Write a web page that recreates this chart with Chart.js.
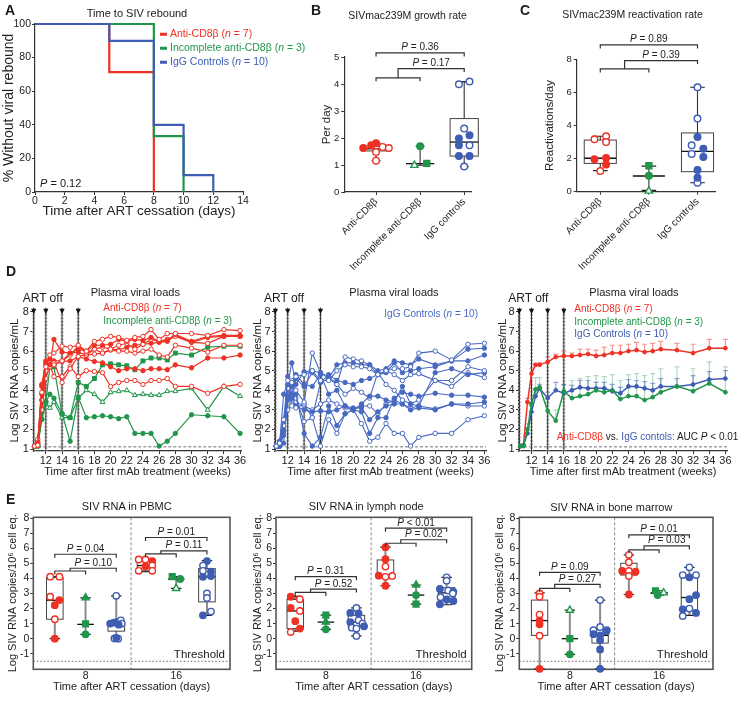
<!DOCTYPE html>
<html>
<head>
<meta charset="utf-8">
<title>SIV rebound after CD8 depletion</title>
<script src="https://cdn.jsdelivr.net/npm/chart.js@4.4.1/dist/chart.umd.min.js"></script>
<style>
  body { margin: 0; width: 739px; height: 704px; position: relative; overflow: hidden; background: #fff;
         font-family: "Liberation Sans", Arial, Helvetica, sans-serif; color: #1b1b1b; }
  .panel { position: absolute; }
  .lbl { position: absolute; white-space: nowrap; line-height: 1; }
</style>
</head>
<body>
<script>
// ---- A: time to rebound (Kaplan-Meier) ----
const kmDaysAnti = [0, 5, 8];
const kmPctAnti = [100, 71.4, 0];
const kmDaysInc = [0, 8, 10];
const kmPctInc = [100, 33.3, 0];
const kmDaysIgg = [0, 5, 8, 10, 12];
const kmPctIgg = [100, 90, 40, 10, 0];
const kmDayTicks = [0, 2, 4, 6, 8, 10, 12, 14];
const kmPctTicks = [0, 20, 40, 60, 80, 100];

// ---- B / C: growth and reactivation rates ----
const groupNames = ['Anti-CD8β', 'Incomplete anti-CD8β', 'IgG controls'];
// box = [min, q1, median, q3, max]
const growthBox = [[1.16, 1.52, 1.6, 1.69, 1.81], [0.99, 1.05, 1.05, 1.05, 1.69], [0.94, 1.33, 1.85, 2.72, 4.09]];
const growthVals = [[1.63, 1.73, 1.81, 1.67, 1.63, 1.48, 1.16], [1.06, 1.69, 0.99], [3.99, 4.09, 2.35, 1.73, 0.94, 1.98, 2.1, 1.73, 1.33, 1.33]];
const growthOpen = [[0, 0, 0, 1, 1, 1, 1], [0, 0, 1], [1, 1, 1, 1, 1, 0, 0, 0, 0, 0]];
const growthJit = [[-0.29, -0.11, 0, 0.15, 0.29, 0, 0], [0.15, 0, -0.13], [-0.12, 0.12, 0, 0.12, 0, -0.12, 0.12, -0.12, -0.12, 0.12]];
const growthBrk = [[5.15, 4.57, 4.23]];
const growthP = [['= 0.36', '= 0.17']];

const reactBox = [[1.27, 1.71, 2.02, 3.12, 3.35], [0.08, 0.95, 0.95, 0.95, 1.55], [0.54, 1.21, 2.44, 3.55, 6.31]];
const reactVals = [[3.17, 3.35, 3.0, 1.25, 1.96, 2.04, 1.65], [1.57, 0.97, 0.04], [6.31, 4.42, 2.8, 2.28, 0.54, 3.31, 2.6, 2.1, 1.31, 0.85]];
const reactOpen = [[1, 1, 1, 1, 0, 0, 0], [0, 0, 1], [1, 1, 1, 1, 1, 0, 0, 0, 0, 0]];
const reactJit = [[-0.12, 0.12, 0.12, 0, -0.12, 0.12, 0.12], [0, 0, 0], [0, 0, -0.12, -0.12, 0, 0, 0.12, 0.12, 0, 0]];
const reactBrk = [[8.87, 7.92, 7.42]];
const reactP = [['= 0.89', '= 0.39']];

// green animals are always listed square, circle, triangle
const incShapes = ['rect', 'circle', 'triangle'];

// ---- D: plasma viral loads ----
const weeks = [10.6, 11, 11.5, 12, 12.5, 13, 14, 15, 16, 17, 18, 19, 20, 21, 22, 23, 24, 25, 26, 27, 28, 30, 32, 34, 36];
const weekTicks = [12, 14, 16, 18, 20, 22, 24, 26, 28, 30, 32, 34, 36];
const logTicks = [1, 2, 3, 4, 5, 6, 7, 8];
const artOffWeeks = [10.5, 12, 14, 16];
const detectLimit = 1.12;

const antiLines = [
  [1.15, 1.2, 3.9, 5.2, 5.8, 5.9, 6.25, 6.2, 6.3, 6.0, 6.5, 6.6, 6.75, 6.7, 6.55, 6.7, 6.75, 7.1, 6.6, 6.9, 6.9, 6.9, 6.8, 7.1, 7.05],
  [1.15, 1.3, 4.3, 5.4, 5.3, 6.6, 5.95, 5.9, 6.1, 6.0, 6.3, 6.3, 6.35, 6.6, 6.5, 6.6, 6.55, 6.7, 6.5, 6.55, 6.85, 6.5, 6.75, 6.8, 6.8],
  [1.15, 1.5, 3.5, 5.0, 5.2, 5.3, 5.5, 5.8, 6.27, 5.9, 6.1, 6.2, 6.1, 6.3, 6.4, 6.1, 6.35, 6.6, 6.5, 6.6, 6.75, 6.45, 6.4, 6.75, 6.75],
  [1.15, 1.2, 3.0, 4.6, 5.4, 5.4, 4.4, 5.1, 5.73, 5.8, 5.85, 5.9, 6.05, 6.0, 6.0, 5.9, 6.0, 6.1, 5.8, 5.7, 6.3, 6.15, 5.95, 6.3, 6.3],
  [1.15, 1.3, 3.8, 5.5, 5.5, 5.3, 5.47, 5.5, 5.7, 5.6, 5.47, 5.4, 5.2, 5.0, 5.1, 5.1, 5.0, 5.1, 5.1, 5.05, 5.3, 5.15, 5.65, 5.65, 5.8],
  [1.15, 1.2, 3.5, 4.9, 5.3, 4.7, 4.7, 5.2, 4.7, 5.0, 4.96, 4.9, 4.19, 4.4, 4.5, 4.5, 4.3, 4.5, 4.5, 4.6, 4.2, 4.2, 3.85, 4.2, 4.3],
  [1.15, 1.4, 4.2, 5.3, 5.6, 5.5, 5.5, 5.9, 5.95, 5.8, 6.1, 5.9, 6.1, 6.05, 6.2, 6.3, 6.35, 6.4, 6.45, 6.5, 6.8, 6.45, 6.7, 6.75, 6.75]
];
const antiOpen = [1, 0, 1, 1, 0, 1, 0];

const incLines = [
  [1.15, 1.15, 2.9, 3.4, 5.2, 5.2, 2.8, 2.6, 4.4, 4.2, 4.6, 5.3, 5.35, 5.3, 5.25, 5.05, 5.5, 5.65, 5.65, 5.55, 5.9, 5.8, 6.2, 6.25, 6.25],
  [1.15, 1.15, 2.5, 3.4, 3.8, 3.6, 2.8, 1.4, 3.65, 2.6, 2.65, 2.7, 2.65, 2.55, 2.65, 1.8, 1.8, 1.8, 1.15, 1.4, 1.8, 2.75, 2.7, 2.65, 1.8],
  [1.15, 1.15, 2.6, 3.3, 3.1, 3.4, 2.6, 2.6, 3.6, 4.0, 3.8, 3.4, 3.9, 3.95, 4.0, 3.75, 3.8, 3.75, 3.75, 3.95, 3.95, 4.1, 3.0, 4.2, 3.7]
];
const incOpenD = [0, 0, 1];

const iggLines = [
  [1.15, 1.3, 2.5, 4.5, 4.4, 4.7, 4.8, 5.0, 4.5, 4.5, 5.0, 5.3, 5.2, 5.2, 5.1, 4.8, 5.0, 5.1, 5.1, 5.2, 5.9, 6.0, 5.55, 6.35, 6.4],
  [1.15, 1.2, 3.8, 4.3, 5.4, 4.3, 4.95, 5.0, 4.9, 4.6, 5.3, 5.4, 5.4, 5.3, 5.3, 5.0, 5.1, 5.5, 5.4, 5.3, 5.6, 5.3, 5.5, 6.1, 6.15],
  [1.15, 1.4, 2.5, 3.6, 4.2, 4.6, 4.2, 4.9, 4.4, 4.8, 4.5, 4.4, 4.3, 4.5, 4.6, 4.8, 4.9, 5.4, 4.9, 5.0, 5.1, 5.2, 5.5, 5.5, 5.8],
  [1.15, 1.2, 2.2, 4.1, 4.5, 4.0, 3.4, 5.9, 4.9, 4.7, 4.3, 5.7, 5.6, 5.5, 5.3, 4.8, 5.0, 4.8, 4.5, 4.8, 4.85, 4.5, 4.5, 5.2, 5.0],
  [1.15, 1.15, 1.9, 4.7, 3.8, 4.8, 4.3, 4.2, 4.8, 3.8, 4.0, 3.2, 3.0, 3.3, 3.7, 3.7, 3.5, 3.4, 4.2, 3.3, 3.2, 4.9, 5.1, 4.8, 4.9],
  [1.15, 1.2, 1.9, 4.2, 3.2, 3.1, 3.3, 2.6, 4.4, 4.6, 4.3, 3.8, 4.1, 3.9, 3.6, 4.9, 4.3, 4.0, 3.5, 3.3, 3.5, 4.5, 4.2, 4.9, 4.65],
  [1.15, 1.15, 1.3, 3.5, 3.6, 3.2, 3.0, 2.9, 2.95, 2.9, 3.0, 3.2, 3.1, 3.1, 2.5, 2.9, 3.2, 3.3, 3.3, 3.0, 3.1, 3.0, 3.3, 3.3, 3.4],
  [1.15, 1.15, 1.7, 3.7, 3.6, 3.8, 1.8, 1.15, 1.6, 3.2, 2.2, 2.8, 3.0, 2.9, 1.8, 2.6, 2.6, 3.6, 3.9, 3.8, 3.7, 3.85, 3.75, 3.75, 3.65],
  [1.15, 1.2, 2.5, 3.6, 4.3, 3.6, 2.4, 2.6, 1.15, 2.5, 1.8, 2.8, 3.0, 2.3, 1.4, 1.6, 2.3, 1.8, 1.8, 1.15, 1.6, 1.8, 1.8, 2.5, 2.7],
  [1.15, 1.15, 2.0, 3.0, 3.3, 3.4, 3.2, 3.0, 3.3, 3.5, 3.3, 3.1, 3.0, 3.2, 3.2, 2.8, 3.3, 3.5, 3.3, 3.1, 3.2, 3.05, 3.3, 3.2, 3.2]
];
const iggOpen = [1, 0, 0, 1, 0, 1, 0, 0, 1, 1];

const antiMean = [1.15, 1.2, 3.4, 4.85, 5.3, 5.3, 5.45, 5.7, 5.75, 5.75, 5.8, 5.85, 5.75, 5.8, 5.9, 5.9, 6.0, 6.05, 5.95, 6.0, 6.1, 6.05, 5.9, 6.15, 6.15];
const antiSem = [0, 0, 0.2, 0.25, 0.05, 0.1, 0.25, 0.15, 0.25, 0.15, 0.3, 0.25, 0.3, 0.4, 0.4, 0.4, 0.35, 0.4, 0.4, 0.4, 0.4, 0.35, 0.45, 0.45, 0.45];
const incMean = [1.15, 1.15, 2.0, 3.3, 4.05, 4.15, 2.95, 2.45, 3.95, 3.6, 3.7, 3.8, 4.0, 3.9, 4.0, 3.55, 3.7, 3.7, 3.5, 3.65, 3.9, 4.2, 3.95, 4.35, 3.9];
const incSem = [0, 0, 0.3, 0.4, 0.6, 0.5, 0.4, 0.55, 0.3, 0.9, 0.9, 0.9, 0.75, 0.8, 0.8, 0.95, 1.1, 1.15, 1.25, 1.2, 1.2, 1.0, 1.15, 1.1, 1.3];
const iggMean = [1.15, 1.2, 1.8, 2.9, 3.7, 4.1, 3.6, 4.0, 3.85, 4.0, 4.15, 4.1, 4.1, 4.1, 3.95, 3.85, 4.2, 4.2, 4.1, 4.0, 4.2, 4.2, 4.3, 4.55, 4.6];
const iggSem = [0, 0.05, 0.3, 0.3, 0.3, 0.2, 0.3, 0.4, 0.45, 0.25, 0.35, 0.4, 0.3, 0.3, 0.35, 0.3, 0.35, 0.3, 0.35, 0.35, 0.4, 0.4, 0.45, 0.4, 0.4];

// ---- E: tissue SIV RNA, groups = anti/inc/igg at day 8 then day 16 ----
const dayLabels = ['8', '16'];
const eLogTicks = [-1, 0, 1, 2, 3, 4, 5, 6, 7, 8];
const eThreshold = -1.5;

const pbmcBox = [[0, 1.29, 2.55, 4.05, 4.11], [0.29, 0.95, 0.95, 0.95, 2.71], [0, 0.5, 1.0, 1.1, 2.84],
                 [4.45, 4.5, 4.85, 5.2, 5.27], [3.33, 3.95, 3.95, 3.95, 4.11], [1.55, 2.44, 4.12, 4.65, 5.18]];
const pbmcVals = [[4.11, 4.11, 2.78, 2.56, 2.22, 1.29, 0], [0.98, 0.29, 2.71], [2.84, 1.0, 1.07, 1.1, 1.22, 1.0, 0.93, 0.02, 0, 0.05],
                  [5.25, 5.25, 5.15, 4.8, 4.85, 4.5, 4.5], [4.11, 3.96, 3.33], [5.15, 4.85, 4.5, 4.45, 4.1, 4.15, 3.0, 2.7, 1.8, 1.55]];
const pbmcOpen = [[1, 1, 1, 0, 0, 1, 0], [0, 0, 0], [1, 0, 0, 0, 1, 1, 0, 1, 1, 0],
                  [1, 1, 0, 0, 1, 1, 1], [0, 0, 1], [0, 1, 1, 0, 0, 0, 1, 1, 1, 0]];
const pbmcJit = [[-0.15, 0.15, -0.15, 0.15, 0, 0, 0], [0, 0, 0], [0, -0.2, -0.08, 0.02, 0.15, 0.18, 0.08, -0.06, 0.06, 0],
                 [-0.22, 0, 0.22, 0, 0.22, -0.22, 0.22], [-0.13, 0.13, 0], [0, -0.13, -0.13, 0.13, -0.13, 0.13, 0, 0, 0.13, -0.13]];
const pbmcBrk = [[5.6, 4.67, 4.49], [6.71, 5.82, 5.62]];
const pbmcP = [['= 0.04', '= 0.10'], ['= 0.01', '= 0.11']];

const lnBox = [[0.5, 0.67, 1.84, 2.6, 2.8], [0.62, 1.1, 1.1, 1.1, 1.56], [0.18, 0.78, 1.1, 1.55, 2.04],
               [3.51, 4.15, 4.2, 5.22, 6.07], [2.29, 2.89, 2.89, 2.89, 3.56], [2.25, 2.56, 3.04, 3.38, 4.07]];
const lnVals = [[2.78, 2.62, 2.04, 1.84, 1.16, 0.67, 0.44], [1.56, 0.62, 1.1], [2.04, 1.71, 1.67, 1.22, 1.1, 1.0, 0.82, 0.73, 0.67, 0.18],
                [6.07, 5.27, 4.78, 4.18, 4.1, 4.16, 3.51], [2.29, 2.89, 3.56], [4.07, 3.85, 3.3, 3.2, 3.1, 3.0, 2.75, 2.6, 2.5, 2.28]];
const lnOpen = [[0, 1, 0, 1, 0, 0, 1], [0, 0, 0], [1, 0, 0, 1, 0, 1, 0, 1, 1, 1],
                [0, 0, 1, 0, 1, 1, 0], [0, 0, 0], [1, 1, 0, 1, 0, 1, 1, 0, 0, 0]];
const lnJit = [[-0.15, 0.15, -0.15, 0.15, 0, 0.15, -0.15], [0, 0, 0], [0, -0.2, 0.07, 0.07, -0.2, 0.2, 0.25, -0.15, 0, 0],
               [0, 0, 0, -0.22, 0, 0.22, 0], [0, 0, 0], [0, 0, -0.22, 0.05, 0.22, 0.2, -0.2, 0, 0.22, -0.22]];
const lnBrk = [[4.11, 3.29, 3.07], [7.33, 6.56, 6.33]];
const lnP = [['= 0.31', '= 0.52'], ['< 0.01', '= 0.02']];

const bmBox = [[-2.0, 0.22, 1.2, 2.56, 3.04], [-1.04, 0, 0, 0, 1.89], [-2.0, -0.29, 0.22, 0.6, 2.56],
               [2.93, 4.22, 4.49, 5.0, 5.56], [2.89, 3.0, 3.02, 3.05, 3.18], [1.55, 1.89, 2.73, 4.11, 4.73]];
const bmVals = [[3.0, 2.78, 1.6, 1.2, 0.95, 0.2, -2.0], [0, -1.04, 1.89], [2.56, 0.78, 0.56, 0.56, 0.3, 0.22, -0.1, -0.71, -2.0, 0.5],
                [5.56, 5.07, 4.49, 4.49, 4.44, 4.16, 2.93], [3.18, 2.89, 3.04], [4.73, 4.22, 4.07, 4.22, 2.89, 2.62, 2.0, 1.95, 1.71, 1.51]];
const bmOpen = [[1, 1, 1, 0, 0, 1, 0], [0, 0, 1], [1, 1, 1, 1, 0, 0, 0, 0, 0, 0],
                [1, 1, 0, 1, 0, 1, 0], [0, 0, 1], [1, 1, 0, 1, 0, 0, 1, 0, 0, 1]];
const bmJit = [[0, 0, 0, 0, 0, 0, 0], [0, 0, 0], [0, 0, -0.22, 0.22, -0.22, 0, 0, 0, 0, 0.2],
               [0, 0, -0.22, 0, 0.22, 0, 0], [-0.12, -0.05, 0.15], [0, -0.22, 0, 0.22, 0.22, 0, 0, -0.22, 0.22, -0.22]];
const bmBrk = [[4.4, 3.6, 3.33], [6.89, 6.16, 5.89]];
const bmP = [['= 0.09', '= 0.27'], ['= 0.01', '= 0.03']];

// ---------------------------------------------------------------
const FONT = '"Liberation Sans", Arial, Helvetica, sans-serif';
const RED = '#ee3124', GREEN = '#20964a', BLUE = '#3e5db3', BLUE_D = '#4869c2';
const groupColors = [RED, GREEN, BLUE];
Chart.defaults.font.family = FONT;
Chart.defaults.color = '#222';

function makePanel(x, y, w, h) {
  const d = document.createElement('div');
  d.className = 'panel';
  d.style.cssText = `left:${x}px;top:${y}px;width:${w}px;height:${h}px`;
  const c = document.createElement('canvas');
  d.appendChild(c);
  document.body.appendChild(d);
  return c;
}

function label(x, y, html, size, o = {}) {
  const s = document.createElement('div');
  s.className = 'lbl';
  s.innerHTML = html;
  s.style.left = x + 'px';
  s.style.top = y + 'px';
  s.style.fontSize = size + 'px';
  if (o.color) s.style.color = o.color;
  if (o.bold) s.style.fontWeight = 'bold';
  s.style.transform = o.center ? 'translate(-50%,-50%)' : 'translateY(-50%)';
  document.body.appendChild(s);
}

function axis(o) {
  return {
    type: 'linear', min: o.min, max: o.max,
    afterBuildTicks: s => { s.ticks = o.ticks.map(v => ({ value: v })); },
    afterFit: s => {
      if (o.width != null) s.width = o.width;
      if (o.height != null) s.height = o.height;
    },
    ticks: {
      font: { size: o.font }, padding: o.pad ?? 2, color: '#222', autoSkip: false,
      maxRotation: o.rot || 0, minRotation: o.rot || 0,
      callback: o.fmt || (v => v)
    },
    grid: { drawOnChartArea: false, drawTicks: (o.tickLen || 0) > 0, tickLength: o.tickLen || 0, color: '#333', lineWidth: 1 },
    border: { display: o.border !== false, color: '#333', width: 1.2 },
    title: o.title ? { display: true, text: o.title, font: { size: o.titleSize }, padding: o.titlePad, color: '#222' }
                   : { display: false }
  };
}

function baseOptions(padding, scales) {
  return {
    responsive: true, maintainAspectRatio: false, animation: false, events: [],
    layout: { padding },
    plugins: { legend: { display: false }, tooltip: { enabled: false } },
    scales
  };
}

function pText(ctx, cx, by, rest, size) {
  ctx.font = `italic ${size}px ${FONT}`;
  const w1 = ctx.measureText('P').width;
  ctx.font = `${size}px ${FONT}`;
  const s = ' ' + rest;
  const w2 = ctx.measureText(s).width;
  const x0 = cx - (w1 + w2) / 2;
  ctx.fillStyle = '#222';
  ctx.textAlign = 'left';
  ctx.textBaseline = 'alphabetic';
  ctx.font = `italic ${size}px ${FONT}`;
  ctx.fillText('P', x0, by);
  ctx.font = `${size}px ${FONT}`;
  ctx.fillText(s, x0 + w1, by);
}

function drawBox(ctx, xs, ys, p, st, c) {
  const [lo, q1, md, q3, hi] = st;
  const X = v => xs.getPixelForValue(v), Y = v => ys.getPixelForValue(v);
  const cx = X(p), l = X(p - c.bw), r = X(p + c.bw), cl = X(p - c.cw), cr = X(p + c.cw);
  ctx.strokeStyle = c.whiskColor;
  ctx.lineWidth = c.whiskWidth;
  ctx.beginPath();
  ctx.moveTo(cx, Y(lo)); ctx.lineTo(cx, Y(q1));
  ctx.moveTo(cx, Y(q3)); ctx.lineTo(cx, Y(hi));
  ctx.stroke();
  ctx.strokeStyle = '#222';
  ctx.lineWidth = 1.2;
  ctx.beginPath();
  ctx.moveTo(cl, Y(lo)); ctx.lineTo(cr, Y(lo));
  ctx.moveTo(cl, Y(hi)); ctx.lineTo(cr, Y(hi));
  ctx.stroke();
  ctx.strokeStyle = '#444';
  ctx.lineWidth = 1;
  if (q3 > q1) ctx.strokeRect(l, Y(q3), r - l, Y(q1) - Y(q3));
  ctx.strokeStyle = '#111';
  ctx.lineWidth = 1.3;
  ctx.beginPath();
  ctx.moveTo(l, Y(md)); ctx.lineTo(r, Y(md));
  ctx.stroke();
}

function drawBrackets(ctx, xs, ys, pos, brk, pTxt, size) {
  const t = 3.5;
  brk.forEach((b, k) => {
    const [yTop, yMain, ySub] = b;
    const g = k * 3;
    const xa = xs.getPixelForValue(pos[g]), xb = xs.getPixelForValue(pos[g + 1]), xc = xs.getPixelForValue(pos[g + 2]);
    const xm = (xa + xb) / 2;
    const ty = ys.getPixelForValue(yTop), my = ys.getPixelForValue(yMain), sy = ys.getPixelForValue(ySub);
    ctx.strokeStyle = '#333';
    ctx.lineWidth = 1.2;
    ctx.beginPath();
    ctx.moveTo(xa, ty + t); ctx.lineTo(xa, ty); ctx.lineTo(xc, ty); ctx.lineTo(xc, ty + t);
    ctx.moveTo(xa, sy + t); ctx.lineTo(xa, sy); ctx.lineTo(xb, sy); ctx.lineTo(xb, sy + t);
    ctx.moveTo(xm, sy); ctx.lineTo(xm, my); ctx.lineTo(xc, my); ctx.lineTo(xc, my + t);
    ctx.stroke();
    pText(ctx, (xa + xc) / 2, ty - 2.5, pTxt[k][0], size);
    pText(ctx, (xm + xc) / 2, my - 2.5, pTxt[k][1], size);
  });
}

function boxChart(canvas, c) {
  const datasets = c.vals.map((vs, g) => {
    const col = groupColors[g % 3];
    const inc = g % 3 === 1;
    return {
      data: vs.map((v, i) => ({ x: c.pos[g] + c.jit[g][i], y: v })),
      pointStyle: vs.map((v, i) => inc ? incShapes[i] : 'circle'),
      pointRadius: vs.map((v, i) => inc && incShapes[i] !== 'circle' ? c.r + 0.9 : c.r),
      pointBackgroundColor: vs.map((v, i) => c.open[g][i] ? '#fff' : col),
      pointBorderColor: col,
      pointBorderWidth: 1.4,
      clip: false
    };
  });
  const plugin = {
    id: 'boxes',
    beforeDatasetsDraw(chart) {
      const { ctx, chartArea: a, scales: { x, y } } = chart;
      ctx.save();
      if (c.frame) {
        ctx.strokeStyle = '#8a8a8a';
        ctx.lineWidth = 1;
        ctx.setLineDash([3, 2]);
        const dx = x.getPixelForValue(c.divider);
        ctx.beginPath(); ctx.moveTo(dx, a.top); ctx.lineTo(dx, a.bottom); ctx.stroke();
        ctx.setLineDash([1.5, 2]);
        ctx.strokeStyle = '#666';
        const ty = y.getPixelForValue(eThreshold);
        ctx.beginPath(); ctx.moveTo(a.left, ty); ctx.lineTo(a.right, ty); ctx.stroke();
        ctx.setLineDash([]);
        ctx.strokeStyle = '#555';
        ctx.lineWidth = 1.6;
        ctx.strokeRect(a.left, a.top, a.width, a.height);
        ctx.fillStyle = '#222';
        ctx.font = `11.5px ${FONT}`;
        ctx.textAlign = 'right';
        ctx.textBaseline = 'middle';
        ctx.fillText('Threshold', a.right - 5, y.getPixelForValue(-1.06));
      }
      c.box.forEach((st, g) => drawBox(ctx, x, y, c.pos[g], st, c));
      ctx.restore();
    },
    afterDatasetsDraw(chart) {
      const { ctx, scales: { x, y } } = chart;
      ctx.save();
      drawBrackets(ctx, x, y, c.pos, c.brk, c.p, c.pSize);
      ctx.restore();
    }
  };
  return new Chart(canvas, { type: 'scatter', data: { datasets }, options: baseOptions(c.padding, c.scales), plugins: [plugin] });
}

// ================= A =================
{
  const canvas = makePanel(0, 0, 300, 225);
  const step = (xs, ys, col) => ({
    data: xs.map((d, i) => ({ x: d, y: ys[i] })), showLine: true, stepped: true,
    borderColor: col, borderWidth: 2.2, pointRadius: 0, clip: false
  });
  new Chart(canvas, {
    type: 'scatter',
    data: { datasets: [step(kmDaysIgg, kmPctIgg, BLUE), step(kmDaysInc, kmPctInc, GREEN), step(kmDaysAnti, kmPctAnti, RED)] },
    options: baseOptions({ top: 24, right: 57, left: 0, bottom: 0 }, {
      x: axis({ min: 0, max: 14, ticks: kmDayTicks, font: 10.5, tickLen: 3, pad: 0, height: 33,
                title: 'Time after ART cessation (days)', titleSize: 13.5, titlePad: { bottom: 6 } }),
      y: axis({ min: 0, max: 100, ticks: kmPctTicks, font: 10.5, tickLen: 3, pad: 1, width: 35,
                title: '% Without viral rebound', titleSize: 14, titlePad: { top: 1 } })
    })
  });
  label(5, 10, 'A', 14, { bold: true });
  label(137, 13, 'Time to SIV rebound', 11, { center: true });
  const mk = c => `<span style="display:inline-block;width:7px;height:3px;background:${c};vertical-align:middle;margin-right:3px"></span>`;
  label(160, 33, mk(RED) + 'Anti-CD8β (<i>n</i> = 7)', 10.5, { color: RED });
  label(160, 47, mk(GREEN) + 'Incomplete anti-CD8β (<i>n</i> = 3)', 10.5, { color: GREEN });
  label(160, 61, mk(BLUE) + 'IgG Controls (<i>n</i> = 10)', 10.5, { color: BLUE });
  label(40, 183, '<i>P</i> = 0.12', 11);
}

// ================= B & C =================
const bcPos = [1, 2, 3];
boxChart(makePanel(295, 0, 222, 280), {
  box: growthBox, vals: growthVals, open: growthOpen, jit: growthJit, pos: bcPos,
  brk: growthBrk, p: growthP, pSize: 10, r: 3.3, bw: 0.32, cw: 0.1, whiskColor: '#333', whiskWidth: 1.1,
  padding: { top: 57, right: 45.3, left: 0, bottom: 0 },
  scales: {
    x: axis({ min: 0.28, max: 3.17, ticks: bcPos, fmt: v => groupNames[v - 1], rot: 45, font: 10, tickLen: 3, pad: 1, height: 88 }),
    y: axis({ min: 0, max: 5, ticks: [0, 1, 2, 3, 4, 5], font: 9.5, tickLen: 3, pad: 2, width: 49.3,
              title: 'Per day', titleSize: 11.5, titlePad: { top: 25 } })
  }
});
label(311, 10, 'B', 14, { bold: true });
label(407.5, 15, 'SIVmac239M growth rate', 10.5, { center: true });

boxChart(makePanel(515, 0, 224, 280), {
  box: reactBox, vals: reactVals, open: reactOpen, jit: reactJit, pos: bcPos,
  brk: reactBrk, p: reactP, pSize: 10, r: 3.3, bw: 0.33, cw: 0.15, whiskColor: '#333', whiskWidth: 1.1,
  padding: { top: 59.3, right: 24, left: 0, bottom: 0 },
  scales: {
    x: axis({ min: 0.515, max: 3.36, ticks: bcPos, fmt: v => groupNames[v - 1], rot: 45, font: 10, tickLen: 3, pad: 1, height: 88.3 }),
    y: axis({ min: 0, max: 8, ticks: [0, 2, 4, 6, 8], font: 9.5, tickLen: 3, pad: 2, width: 61.7,
              title: 'Reactivations/day', titleSize: 11.5, titlePad: { top: 28 } })
  }
});
label(520, 10, 'C', 14, { bold: true });
label(632.5, 14, 'SIVmac239M reactivation rate', 10.5, { center: true });

// ================= D =================
function lineSet(vals, col, open, shape, r, w) {
  return {
    data: weeks.map((wk, i) => ({ x: wk, y: vals[i] })), showLine: true, borderColor: col, borderWidth: w,
    pointStyle: shape, pointRadius: shape === 'circle' ? r : r + 0.6,
    pointBackgroundColor: open ? '#fff' : col, pointBorderColor: col, pointBorderWidth: 1, clip: false
  };
}

function artPlugin(errs) {
  return {
    id: 'artoff',
    beforeDatasetsDraw(chart) {
      const { ctx, chartArea: a, scales: { x, y } } = chart;
      ctx.save();
      const ty = y.getPixelForValue(detectLimit);
      ctx.strokeStyle = '#a0a0a0';
      ctx.lineWidth = 1.6;
      ctx.setLineDash([3, 2]);
      ctx.beginPath(); ctx.moveTo(a.left, ty); ctx.lineTo(a.right, ty); ctx.stroke();
      artOffWeeks.forEach(w => {
        const px = x.getPixelForValue(w);
        const top = y.getPixelForValue(8.22);
        ctx.setLineDash([2, 1.5]);
        ctx.strokeStyle = '#b5b5b5';
        ctx.lineWidth = 3;
        ctx.beginPath(); ctx.moveTo(px, top + 6); ctx.lineTo(px, a.bottom); ctx.stroke();
        ctx.setLineDash([]);
        ctx.strokeStyle = '#333';
        ctx.lineWidth = 1;
        ctx.beginPath(); ctx.moveTo(px, top); ctx.lineTo(px, a.bottom); ctx.stroke();
        ctx.fillStyle = '#111';
        ctx.beginPath(); ctx.moveTo(px - 2.6, top + 1); ctx.lineTo(px + 2.6, top + 1); ctx.lineTo(px, top + 6.5); ctx.closePath(); ctx.fill();
      });
      (errs || []).forEach(e => {
        ctx.strokeStyle = e.color;
        ctx.lineWidth = 1.2;
        ctx.beginPath();
        weeks.forEach((wk, i) => {
          if (!e.sem[i]) return;
          const px = x.getPixelForValue(wk), y0 = y.getPixelForValue(e.mean[i]), y1 = y.getPixelForValue(e.mean[i] + e.sem[i]);
          ctx.moveTo(px, y0); ctx.lineTo(px, y1);
          ctx.moveTo(px - 2.5, y1); ctx.lineTo(px + 2.5, y1);
        });
        ctx.stroke();
      });
      ctx.restore();
    }
  };
}

function dScales(yWidth, yPad) {
  return {
    x: axis({ min: 10.45, max: 36.2, ticks: weekTicks, font: 11, tickLen: 3, pad: 0, height: 34,
              title: 'Time after first mAb treatment (weeks)', titleSize: 11, titlePad: { bottom: 6 } }),
    y: axis({ min: 0.9, max: 8.1, ticks: logTicks, font: 11, tickLen: 3, pad: 1.5, width: yWidth,
              title: 'Log SIV RNA copies/mL', titleSize: 11.5, titlePad: { top: yPad } })
  };
}

{
  const ds = antiLines.map((v, i) => lineSet(v, RED, antiOpen[i], 'circle', 2.2, 1.2))
    .concat(incLines.map((v, i) => lineSet(v, GREEN, incOpenD[i], ['rect', 'circle', 'triangle'][i], 2.2, 1.2)));
  new Chart(makePanel(0, 235, 250, 250), {
    type: 'scatter', data: { datasets: ds },
    options: baseOptions({ top: 75, right: 8.3, left: 0, bottom: 0 }, dScales(33.3, 8.1)),
    plugins: [artPlugin()]
  });
  label(6, 271, 'D', 14, { bold: true });
  label(135.3, 292.3, 'Plasma viral loads', 11, { center: true });
  label(22.7, 297.7, 'ART off', 12);
  label(103.3, 308.3, 'Anti-CD8β (<i>n</i> = 7)', 10, { color: RED });
  label(103.3, 321, 'Incomplete anti-CD8β (<i>n</i> = 3)', 10, { color: GREEN });
}
{
  const ds = iggLines.map((v, i) => lineSet(v, BLUE_D, iggOpen[i], 'circle', 2.2, 1.1));
  new Chart(makePanel(245, 235, 250, 250), {
    type: 'scatter', data: { datasets: ds },
    options: baseOptions({ top: 75, right: 9, left: 0, bottom: 0 }, dScales(30, 6.4)),
    plugins: [artPlugin()]
  });
  label(394, 292.3, 'Plasma viral loads', 11, { center: true });
  label(264, 297.7, 'ART off', 12);
  label(384.3, 314, 'IgG Controls (<i>n</i> = 10)', 10, { color: BLUE_D });
}
{
  const ds = [
    lineSet(incMean, GREEN, 0, 'circle', 1.9, 1.5),
    lineSet(iggMean, BLUE, 0, 'circle', 1.9, 1.5),
    lineSet(antiMean, RED, 0, 'circle', 1.9, 1.5)
  ];
  const errs = [
    { mean: incMean, sem: incSem, color: 'rgba(32,150,74,0.35)' },
    { mean: iggMean, sem: iggSem, color: 'rgba(62,93,179,0.55)' },
    { mean: antiMean, sem: antiSem, color: 'rgba(238,49,36,0.5)' }
  ];
  new Chart(makePanel(490, 235, 249, 250), {
    type: 'scatter', data: { datasets: ds },
    options: baseOptions({ top: 75, right: 12, left: 0, bottom: 0 }, dScales(29, 6.4)),
    plugins: [artPlugin(errs)]
  });
  label(634, 292.3, 'Plasma viral loads', 11, { center: true });
  label(508.3, 298.3, 'ART off', 12);
  label(574.3, 309, 'Anti-CD8β (<i>n</i> = 7)', 10, { color: RED });
  label(574.3, 322.3, 'Incomplete anti-CD8β (<i>n</i> = 3)', 10, { color: GREEN });
  label(574.3, 334, 'IgG Controls (<i>n</i> = 10)', 10, { color: BLUE });
  label(556.7, 436.7, `<span style="color:${RED}">Anti-CD8β</span> vs. <span style="color:${BLUE}">IgG contols:</span> AUC <i>P</i> &lt; 0.01`, 10);
}

// ================= E =================
const ePos = [1, 2, 3, 3.95, 4.95, 5.95];
function eScales(xMin, xMax, yWidth, yPad) {
  return {
    x: axis({ min: xMin, max: xMax, ticks: [2, 4.95], fmt: (v, i) => dayLabels[i], font: 10.5, tickLen: 0, pad: 1,
              height: 34.7, border: false, title: 'Time after ART cessation (days)', titleSize: 11, titlePad: { bottom: 10.5 } }),
    y: axis({ min: -2.03, max: 8.05, ticks: eLogTicks, font: 10.5, tickLen: 3, pad: 1, width: yWidth, border: false,
              title: 'Log SIV RNA copies/10⁶ cell eq.', titleSize: 11, titlePad: { top: yPad } })
  };
}
const eStyle = { pos: ePos, pSize: 10, r: 3.2, bw: 0.27, cw: 0.17, whiskColor: '#8c8c8c', whiskWidth: 2, frame: true, divider: 3.48 };

boxChart(makePanel(0, 485, 245, 219), Object.assign({}, eStyle, {
  box: pbmcBox, vals: pbmcVals, open: pbmcOpen, jit: pbmcJit, brk: pbmcBrk, p: pbmcP,
  padding: { top: 32.3, right: 15, left: 0, bottom: 0 }, scales: eScales(0.3, 6.7, 33.3, 6.7)
}));
boxChart(makePanel(245, 485, 245, 219), Object.assign({}, eStyle, {
  box: lnBox, vals: lnVals, open: lnOpen, jit: lnJit, brk: lnBrk, p: lnP,
  padding: { top: 32.3, right: 18.3, left: 0, bottom: 0 }, scales: eScales(0.37, 6.77, 31, 6.1)
}));
boxChart(makePanel(490, 485, 249, 219), Object.assign({}, eStyle, {
  box: bmBox, vals: bmVals, open: bmOpen, jit: bmJit, brk: bmBrk, p: bmP,
  padding: { top: 32.3, right: 26, left: 0, bottom: 0 }, scales: eScales(0.33, 6.73, 29.3, 3.4)
}));
label(6, 499, 'E', 14, { bold: true });
label(126.7, 505.7, 'SIV RNA in PBMC', 11, { center: true });
label(366.2, 505.7, 'SIV RNA in lymph node', 11, { center: true });
label(611.3, 506.7, 'SIV RNA in bone marrow', 11, { center: true });
</script>
</body>
</html>
